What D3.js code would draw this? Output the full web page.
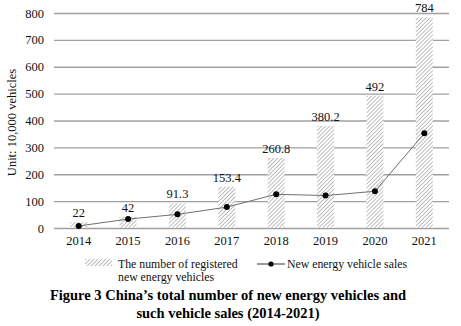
<!DOCTYPE html>
<html>
<head>
<meta charset="utf-8">
<script src="https://cdn.jsdelivr.net/npm/d3@7"></script>
<style>
  body { margin: 0; background: #fff; }
  svg, svg text { font-family: "Liberation Serif", "Times New Roman", serif; }
</style>
</head>
<body>
<div id="chart"></div>
<script>
const years = ['2014', '2015', '2016', '2017', '2018', '2019', '2020', '2021'];
const registered = [22, 42, 91.3, 153.4, 260.8, 380.2, 492, 784];
const sales = [7.5, 33.1, 50.7, 77.7, 125.6, 120.6, 136.7, 352.1];
const yTicks = [0, 100, 200, 300, 400, 500, 600, 700, 800];

const width = 461, height = 326;
const margin = { top: 13, right: 12, bottom: 98, left: 54 };
const innerW = width - margin.left - margin.right;
const innerH = height - margin.top - margin.bottom;
const serif = '"Liberation Serif", "Times New Roman", serif';

const svg = d3.select('#chart')
  .append('svg')
  .attr('width', width)
  .attr('height', height);

// hatch for the bars
const defs = svg.append('defs');
const pat = defs.append('pattern')
  .attr('id', 'hatch')
  .attr('patternUnits', 'userSpaceOnUse')
  .attr('width', 2.8)
  .attr('height', 2.8)
  .attr('patternTransform', 'rotate(45)');
pat.append('rect').attr('width', 2.8).attr('height', 2.8).attr('fill', '#fff');
pat.append('line')
  .attr('x1', 0).attr('y1', 0).attr('x2', 0).attr('y2', 2.8)
  .attr('stroke', '#888')
  .attr('stroke-width', 1.1);

const chart = svg.append('g')
  .attr('transform', `translate(${margin.left},${margin.top})`);

const x = d3.scaleBand()
  .domain(years)
  .range([0, innerW])
  .paddingInner(0.656)
  .paddingOuter(0.328);

const y = d3.scaleLinear()
  .domain([0, 800])
  .range([innerH, 0]);

// grid
chart.append('g')
  .attr('class', 'grid')
  .call(d3.axisRight(y).tickValues(yTicks).tickSize(innerW).tickFormat(''))
  .call(g => g.select('.domain').remove())
  .selectAll('line')
  .attr('stroke', '#a0a0a0')
  .attr('stroke-width', 1.3);

// y axis labels
chart.append('g')
  .call(d3.axisLeft(y).tickValues(yTicks).tickSize(0).tickPadding(10))
  .attr('font-family', serif)
  .call(g => g.select('.domain').remove())
  .selectAll('text')
  .style('font-size', '12.5px')
  .style('fill', '#111');

// x axis labels
chart.append('g')
  .attr('transform', `translate(0,${innerH})`)
  .call(d3.axisBottom(x).tickSize(0).tickPadding(8))
  .attr('font-family', serif)
  .call(g => g.select('.domain').remove())
  .selectAll('text')
  .style('font-size', '12.5px')
  .style('fill', '#111');

// bars
chart.append('g')
  .selectAll('rect')
  .data(years)
  .enter()
  .append('rect')
  .attr('x', d => x(d))
  .attr('y', (d, i) => y(registered[i]))
  .attr('width', x.bandwidth())
  .attr('height', (d, i) => innerH - y(registered[i]))
  .attr('fill', 'url(#hatch)');

// bar value labels
chart.append('g')
  .selectAll('text')
  .data(years)
  .enter()
  .append('text')
  .attr('x', d => x(d) + x.bandwidth() / 2)
  .attr('y', (d, i) => y(registered[i]) - 5)
  .attr('text-anchor', 'middle')
  .style('font-size', '12.5px')
  .style('fill', '#111')
  .text((d, i) => registered[i]);

// sales line
const line = d3.line()
  .x(d => x(d.year) + x.bandwidth() / 2)
  .y(d => y(d.value));
const salesData = years.map((yr, i) => ({ year: yr, value: sales[i] }));

chart.append('path')
  .datum(salesData)
  .attr('d', line)
  .attr('fill', 'none')
  .attr('stroke', '#707070')
  .attr('stroke-width', 1);

chart.append('g')
  .selectAll('circle')
  .data(salesData)
  .enter()
  .append('circle')
  .attr('cx', d => x(d.year) + x.bandwidth() / 2)
  .attr('cy', d => y(d.value))
  .attr('r', 3)
  .attr('fill', '#000');

// y label
svg.append('text')
  .attr('transform', `translate(16,${margin.top + innerH / 2 + 2}) rotate(-90)`)
  .attr('text-anchor', 'middle')
  .style('font-size', '12.5px')
  .style('fill', '#111')
  .text('Unit: 10,000 vehicles');

// legend
const leg = svg.append('g');
leg.append('rect')
  .attr('x', 85).attr('y', 259)
  .attr('width', 27).attr('height', 7)
  .attr('fill', 'url(#hatch)');
leg.append('text')
  .attr('x', 118).attr('y', 268)
  .style('font-size', '11.8px')
  .style('fill', '#111')
  .text('The number of registered');
leg.append('text')
  .attr('x', 118).attr('y', 281)
  .style('font-size', '11.8px')
  .style('fill', '#111')
  .text('new energy vehicles');

leg.append('line')
  .attr('x1', 257).attr('x2', 285)
  .attr('y1', 264).attr('y2', 264)
  .attr('stroke', '#333')
  .attr('stroke-width', 1);
leg.append('circle')
  .attr('cx', 271).attr('cy', 264).attr('r', 2.6)
  .attr('fill', '#000');
leg.append('text')
  .attr('x', 287).attr('y', 268)
  .style('font-size', '11.8px')
  .style('fill', '#111')
  .text('New energy vehicle sales');

// caption
const cap = svg.append('text')
  .attr('text-anchor', 'middle')
  .style('font-size', '14.5px')
  .style('font-weight', 'bold')
  .style('fill', '#000');
cap.append('tspan')
  .attr('x', 228).attr('y', 300)
  .text('Figure 3 China\u2019s total number of new energy vehicles and');
cap.append('tspan')
  .attr('x', 228).attr('y', 318)
  .text('such vehicle sales (2014-2021)');
</script>
</body>
</html>
